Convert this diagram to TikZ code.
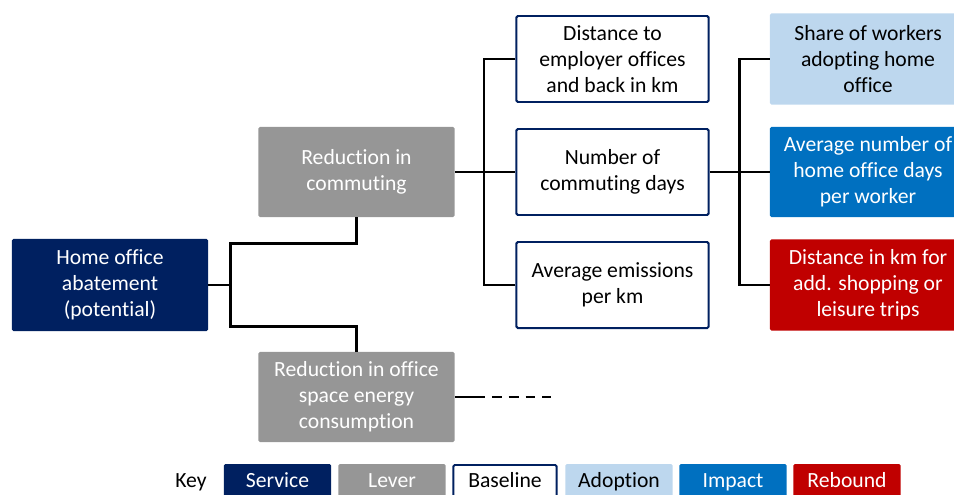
\documentclass[tikz,border=0pt]{standalone}
\usepackage{fontspec}
\setmainfont{Carlito}[Ligatures=NoCommon]
\usetikzlibrary{calc}

\definecolor{service}{RGB}{0,32,96}
\definecolor{lever}{RGB}{150,150,150}
\definecolor{adoption}{RGB}{189,215,238}
\definecolor{impact}{RGB}{0,112,192}
\definecolor{rebound}{RGB}{192,0,0}

\begin{document}
\begin{tikzpicture}[
    x=0.025cm, y=-0.025cm,
    box/.style={minimum width=4.9cm, minimum height=2.25cm, inner sep=0pt,
                align=center, rounded corners=1pt,
                font=\fontsize{15.4}{18.5}\selectfont},
    servicebox/.style={box, fill=service, text=white},
    leverbox/.style={box, fill=lever, text=white},
    basebox/.style={box, draw=service, line width=1.4pt, fill=white, text=black,
                    minimum width=4.8cm, minimum height=2.15cm},
    adoptbox/.style={box, fill=adoption, text=black},
    impactbox/.style={box, fill=impact, text=white},
    reboundbox/.style={box, fill=rebound, text=white},
    keybox/.style={minimum width=2.675cm, minimum height=0.9cm,
                   text height=0.88em, text depth=0.16em},
    link/.style={draw=black, line width=1.8pt}]

\useasboundingbox (0,0) rectangle (954,494);
\clip (0,0) rectangle (954,494);

% service and levers
\node[servicebox, minimum height=2.3cm] (home) at (110,285) {Home office\\abatement\\(potential)};
\node[leverbox] (commute) at (356.5,172) {Reduction in\\commuting};
\node[leverbox] (office) at (356.5,397) {Reduction in office\\space energy\\consumption};

% baseline
\node[basebox] (distance) at (612.5,59) {Distance to\\employer offices\\and back in km};
\node[basebox] (days) at (612.5,172) {Number of\\commuting days};
\node[basebox] (emission) at (612.5,285) {Average emissions\\per km};

% adoption, impact, rebound
\node[adoptbox, minimum height=2.28cm] (share) at (868,59) {Share of workers\\adopting home\\office};
\node[impactbox] (avgdays) at (868,172) {Average number of\\home office days\\per worker};
\node[reboundbox, minimum height=2.28cm] (extra) at (868,285) {Distance in km for\\add. shopping or\\leisure trips};

% connectors
\coordinate (hj) at ($(home.east)+(22,0)$);
\coordinate (cj) at ($(commute.east)+(29,0)$);
\coordinate (dj) at ($(days.east)+(30,0)$);

\draw[link] (home.east) -- (hj);
\draw[link] (commute.south) -- ++(0,26) -| (hj);
\draw[link] (office.north) -- ++(0,-25) -| (hj);

\draw[link] (commute.east) -- (days.west);
\draw[link] (distance.west) -| (cj);
\draw[link] (emission.west) -| (cj);

\draw[link] (days.east) -- (avgdays.west);
\draw[link] (share.west) -| (dj);
\draw[link] (extra.west) -| (dj);

\draw[link] (office.east) -- ++(30,0) coordinate (oe);
\draw[link, dash pattern=on 7pt off 5pt, dash phase=7pt] (oe) -- ++(66,0);

% key
\node[font=\fontsize{15.4}{18.5}\selectfont, text height=0.88em, text depth=0.16em] (key) at (191,482) {Key};
\node[servicebox, keybox] (kservice) at (277.5,482) {Service};
\node[leverbox, keybox] (klever) at (392,482) {Lever};
\node[basebox, keybox, minimum width=2.58cm, minimum height=0.85cm] (kbase) at (505,482) {Baseline};
\node[adoptbox, keybox] (kadopt) at (619,482) {Adoption};
\node[impactbox, keybox] (kimpact) at (733,482) {Impact};
\node[reboundbox, keybox] (krebound) at (847,482) {Rebound};

\end{tikzpicture}
\end{document}
